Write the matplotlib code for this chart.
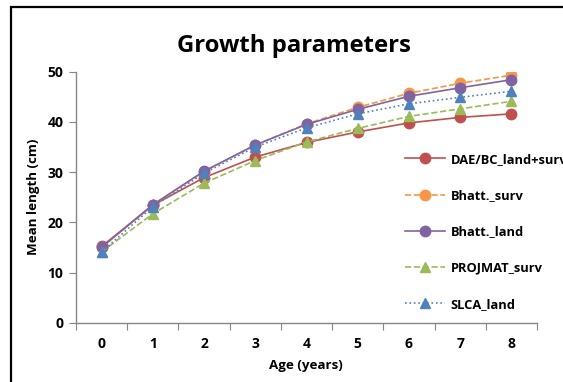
import matplotlib.pyplot as plt
from matplotlib.patches import Rectangle

plt.rcParams['font.family'] = ['Open Sans', 'DejaVu Sans']
plt.rcParams['font.weight'] = 'bold'

# --- data ---
ages = [0, 1, 2, 3, 4, 5, 6, 7, 8]
dae_bc = [15.2, 23.4, 28.9, 33.0, 35.9, 38.0, 39.8, 40.9, 41.6]
bhatt_surv = [15.0, 23.5, 30.1, 35.4, 39.6, 42.9, 45.7, 47.7, 49.3]
bhatt_land = [15.0, 23.5, 30.2, 35.4, 39.5, 42.5, 45.1, 46.8, 48.4]
projmat_surv = [14.1, 21.7, 27.8, 32.3, 36.0, 38.7, 41.1, 42.6, 44.1]
slca_land = [14.1, 23.1, 29.8, 35.0, 38.8, 41.6, 43.6, 44.9, 46.1]

series = [
    ("DAE/BC_land+surv", dae_bc, "#C0504D", "-", "o"),
    ("Bhatt._surv", bhatt_surv, "#F79646", "--", "o"),
    ("Bhatt._land", bhatt_land, "#8064A2", "-", "o"),
    ("PROJMAT_surv", projmat_surv, "#9BBB59", "--", "^"),
    ("SLCA_land", slca_land, "#4F81BD", ":", "^"),
]

W, H = 563, 382
fig = plt.figure(figsize=(W / 100, H / 100), dpi=100)
ax = fig.add_axes([76 / W, 1 - 322.7 / H, (537 - 76) / W, (322.7 - 71.7) / H])

for name, vals, col, ls, mk in series:
    ax.plot(ages, vals, color=col, linestyle=ls, linewidth=1.2,
            marker=mk, markersize=7.5, markeredgecolor=col,
            markerfacecolor=col, label=name)

ax.set_xlim(-0.5, 8.5)
ax.set_ylim(0, 50)
ax.set_yticks(range(0, 51, 10))
ax.set_xticks([a - 0.5 for a in ages] + [8.5])
ax.set_xticklabels([])
ax.set_xticks(ages, minor=True)
ax.set_xticklabels([str(a) for a in ages], minor=True)
ax.tick_params(axis='x', which='major', length=5, direction='out', color='#868686')
ax.tick_params(axis='x', which='minor', length=0, pad=10.5, labelsize=10)
ax.tick_params(axis='y', length=5, direction='out', color='#868686', labelsize=10, pad=4)

for s in ('top', 'right'):
    ax.spines[s].set_visible(False)
for s in ('left', 'bottom'):
    ax.spines[s].set_color('#868686')
    ax.spines[s].set_linewidth(1.0)

for lbl in ax.get_xticklabels(minor=True) + ax.get_yticklabels():
    lbl.set_fontweight('bold')

fig.text(294 / W, 1 - 46 / H, "Growth parameters", ha='center', va='center',
         fontsize=17.2, fontweight='bold')
fig.text(306 / W, 1 - 365 / H, "Age (years)", ha='center', va='center',
         fontsize=9.6, fontweight='bold')
fig.text(33 / W, 1 - 197 / H, "Mean length (cm)", ha='center', va='center',
         rotation=90, fontsize=9.6, fontweight='bold')

leg = ax.legend(loc='upper left', bbox_to_anchor=(405 / W, 1 - 153 / H),
                bbox_transform=fig.transFigure, frameon=False, borderpad=0,
                borderaxespad=0, handlelength=3.1, handletextpad=0.42,
                labelspacing=1.8, prop={'size': 9.3, 'weight': 'bold'})

# chart border
fig.patches.append(Rectangle((11 / W, -0.05), 1.1, 1.05 - 7 / H,
                             transform=fig.transFigure, fill=False,
                             edgecolor='black', linewidth=1.6, zorder=10))

fig.savefig("out.png", dpi=100)
